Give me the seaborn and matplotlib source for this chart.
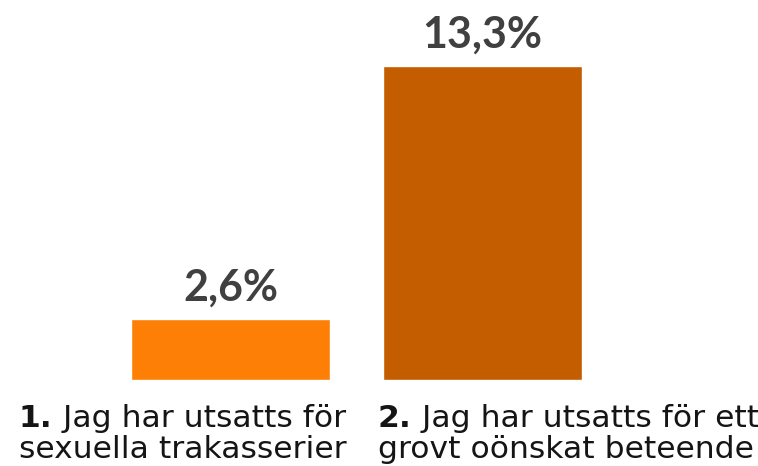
import matplotlib
matplotlib.use("Agg")
import matplotlib.pyplot as plt
import seaborn as sns
import pandas as pd

# data
categories = ["Sexuella trakasserier", "Grovt oönskat beteende"]
values = [2.6, 13.3]
value_labels = ["2,6%", "13,3%"]
label_numbers = ["1.", "2."]
label_first_lines = [" Jag har utsatts för", " Jag har utsatts för ett"]
label_second_lines = ["sexuella trakasserier", "grovt oönskat beteende"]
bar_colors = ["#FD7F06", "#C45D00"]

sns.set_theme(style="white")
plt.rcParams["font.family"] = ["DejaVu Sans"]

df = pd.DataFrame({"kategori": categories, "andel": values})

W, H = 758, 466
fig = plt.figure(figsize=(W / 100, H / 100), dpi=100)
ax = fig.add_axes([104.5 / W, 86 / H, 504 / W, 354 / H])

sns.barplot(data=df, x="kategori", y="andel", hue="kategori",
            palette=bar_colors, width=0.79, legend=False, ax=ax,
            saturation=1)

ax.set_xlim(-0.5, 1.5)
ax.set_ylim(0, 15)
ax.set_xlabel("")
ax.set_ylabel("")
ax.set_xticks([])
ax.set_yticks([])
sns.despine(ax=ax, left=True, bottom=True)

for container, lab in zip(ax.containers, value_labels):
    ax.bar_label(container, labels=[lab], padding=8, fontsize=31,
                 fontweight="bold", color="#404040", family=["Lato", "DejaVu Sans"])

# category labels, left aligned below the bars
renderer = fig.canvas.get_renderer()
label_x = [19, 378]
fs = 22.6
txt_color = "#151515"
for x, num, l1, l2 in zip(label_x, label_numbers, label_first_lines, label_second_lines):
    y1 = (H - 427) / H
    y2 = (H - 458) / H
    b = fig.text(x / W, y1, num, ha="left", va="baseline", fontsize=fs,
                 fontweight="bold", color=txt_color)
    bw = b.get_window_extent(renderer).width
    fig.text((x + bw) / W, y1, l1, ha="left", va="baseline", fontsize=fs,
             color=txt_color)
    fig.text(x / W, y2, l2, ha="left", va="baseline", fontsize=fs,
             color=txt_color)

fig.savefig("out.png", dpi=100)
